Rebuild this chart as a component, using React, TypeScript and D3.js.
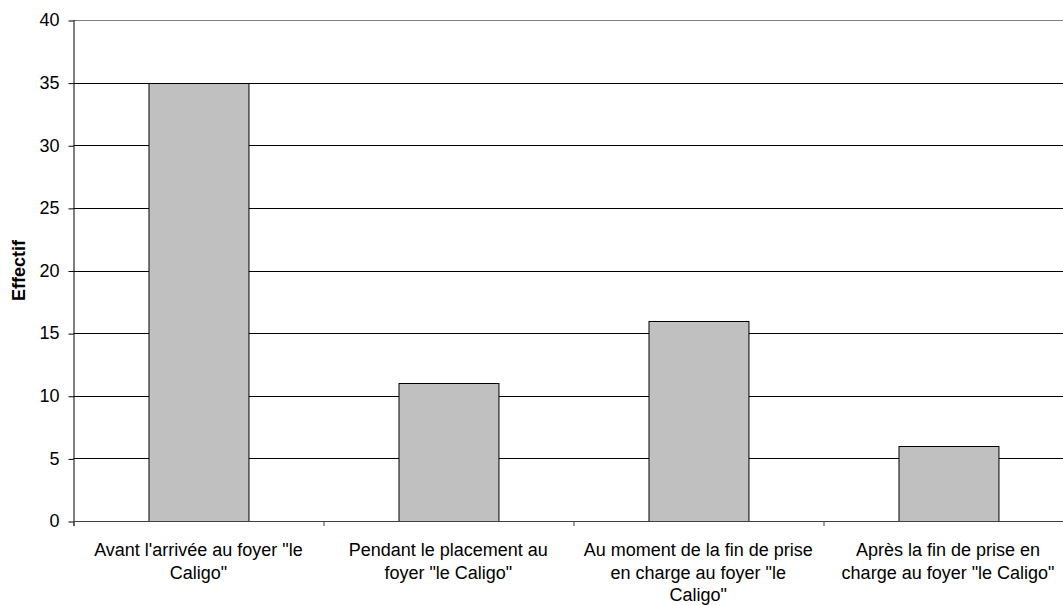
import React, { useRef, useEffect } from 'react';
import * as d3 from 'd3';

const categories = ['c1', 'c2', 'c3', 'c4'];
const categoryLabels: string[][] = [
  ['Avant l\'arrivée au foyer "le', 'Caligo"'],
  ['Pendant le placement au', 'foyer "le Caligo"'],
  ['Au moment de la fin de prise', 'en charge au foyer "le', 'Caligo"'],
  ['Après la fin de prise en', 'charge au foyer "le Caligo"'],
];
const values = [35, 11, 16, 6];
const yTicks = [0, 5, 10, 15, 20, 25, 30, 35, 40];

const W = 1063;
const H = 605;
const FONT = '"Liberation Sans", Arial, sans-serif';

const App: React.FC = () => {
  const svgRef = useRef<SVGSVGElement | null>(null);

  useEffect(() => {
    const margin = { top: 20, right: -10, bottom: 84, left: 73.5 };
    const w = W - margin.left - margin.right;
    const h = H - margin.top - margin.bottom;

    const svg = d3.select(svgRef.current);
    svg.selectAll('*').remove();
    const g = svg.append('g').attr('transform', `translate(${margin.left},${margin.top})`);

    const x = d3.scaleBand().domain(categories).range([0, w]).paddingInner(0).paddingOuter(0);
    const y = d3.scaleLinear().domain([0, 40]).range([h, 0]);

    // quadrillage
    g.selectAll('line.grid')
      .data(yTicks.filter((t) => t > 0))
      .enter()
      .append('line')
      .attr('class', 'grid')
      .attr('x1', 0)
      .attr('x2', w)
      .attr('y1', (d) => Math.round(y(d)) + 0.5)
      .attr('y2', (d) => Math.round(y(d)) + 0.5)
      .attr('stroke', (d) => (d === 40 ? '#808080' : '#000'))
      .attr('stroke-width', 1);

    // barres
    const barW = x.bandwidth() * 0.4;
    g.selectAll('rect.bar')
      .data(values)
      .enter()
      .append('rect')
      .attr('class', 'bar')
      .attr('x', (_, i) => Math.round(x(categories[i])! + (x.bandwidth() - barW) / 2) + 0.5)
      .attr('y', (d) => Math.round(y(d)) + 0.5)
      .attr('width', barW)
      .attr('height', (d) => Math.round(y(0)) - Math.round(y(d)))
      .attr('fill', '#c0c0c0')
      .attr('stroke', '#000')
      .attr('stroke-width', 1);

    // axe Y
    const yAxis = g.append('g').call(d3.axisLeft(y).tickValues(yTicks).tickSize(5).tickPadding(9));
    yAxis.select('.domain').remove();
    yAxis.selectAll('line').attr('stroke', '#000').attr('transform', 'translate(0,0.5)');
    yAxis.selectAll('text').attr('font-family', FONT).attr('font-size', 18).attr('fill', '#000');
    g.append('line')
      .attr('x1', 0.5).attr('x2', 0.5)
      .attr('y1', 0).attr('y2', h + 5)
      .attr('stroke', '#000');

    // axe X
    g.append('line')
      .attr('x1', 0).attr('x2', w)
      .attr('y1', Math.round(h) + 0.5).attr('y2', Math.round(h) + 0.5)
      .attr('stroke', '#404040');
    g.selectAll('line.xtick')
      .data(categories)
      .enter()
      .append('line')
      .attr('class', 'xtick')
      .attr('x1', (d) => Math.round(x(d)!) + 0.5)
      .attr('x2', (d) => Math.round(x(d)!) + 0.5)
      .attr('y1', h)
      .attr('y2', h + 5)
      .attr('stroke', '#404040');

    const labels = g.selectAll('text.xlab')
      .data(categories)
      .enter()
      .append('text')
      .attr('class', 'xlab')
      .attr('text-anchor', 'middle')
      .attr('font-family', FONT)
      .attr('font-size', 18)
      .attr('fill', '#000')
      .attr('transform', (d) => `translate(${x(d)! + x.bandwidth() / 2},${h + 35})`);
    labels.each(function (_, i) {
      const t = d3.select(this);
      categoryLabels[i].forEach((line, j) => {
        t.append('tspan').attr('x', 0).attr('y', j * 22.5).text(line);
      });
    });

    // titre Y
    svg.append('text')
      .attr('transform', `translate(25,${margin.top + h / 2}) rotate(-90)`)
      .attr('text-anchor', 'middle')
      .attr('font-family', FONT)
      .attr('font-size', 18)
      .attr('font-weight', 'bold')
      .text('Effectif');
  }, []);

  return <svg ref={svgRef} width={W} height={H} style={{ position: 'absolute', left: 0, top: 0, background: '#fff' }} />;
};

export default App;
